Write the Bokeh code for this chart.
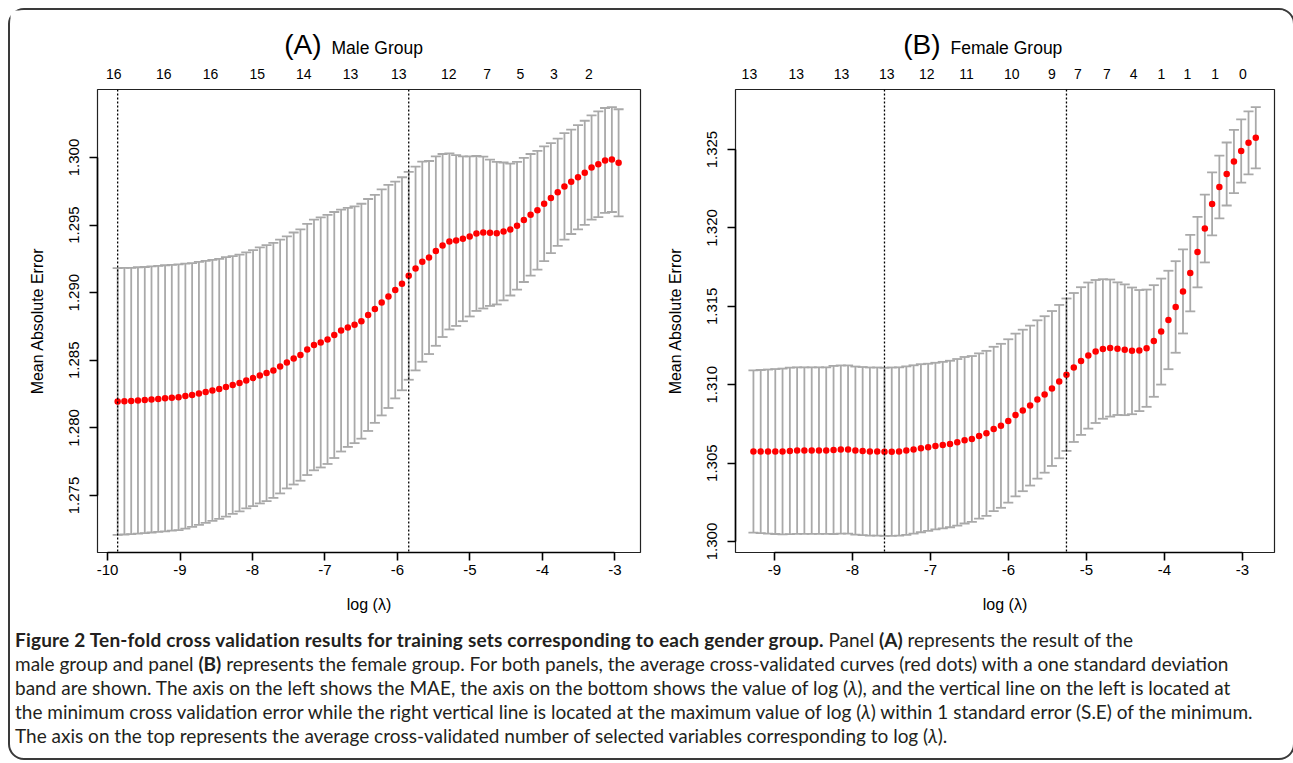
from bokeh.plotting import figure
from bokeh.models import FixedTicker, LinearAxis, Range1d, Span, Div, PrintfTickFormatter
from bokeh.layouts import row, column
from bokeh.embed import file_html
from bokeh.resources import INLINE
from bokeh.core.properties import value

# ---------------- data: panel A (male) ----------------
log_lambda_A = [-9.860, -9.767, -9.673, -9.580, -9.486, -9.393, -9.300, -9.206, -9.113, -9.020,
                -8.926, -8.833, -8.739, -8.646, -8.553, -8.459, -8.366, -8.273, -8.179, -8.086,
                -7.992, -7.899, -7.806, -7.712, -7.619, -7.526, -7.432, -7.339, -7.245, -7.152,
                -7.059, -6.965, -6.872, -6.778, -6.685, -6.592, -6.498, -6.405, -6.312, -6.218,
                -6.125, -6.031, -5.938, -5.845, -5.751, -5.658, -5.565, -5.471, -5.378, -5.284,
                -5.191, -5.098, -5.004, -4.911, -4.817, -4.724, -4.631, -4.537, -4.444, -4.351,
                -4.257, -4.164, -4.070, -3.977, -3.884, -3.790, -3.697, -3.604, -3.510, -3.417,
                -3.323, -3.230, -3.137, -3.043, -2.950]
mae_A = [1.28195, 1.28197, 1.28199, 1.28203, 1.28206, 1.28210, 1.28214, 1.28219, 1.28223, 1.28227,
         1.28235, 1.28243, 1.28255, 1.28266, 1.28277, 1.28288, 1.28303, 1.28317, 1.28332, 1.28351,
         1.28368, 1.28388, 1.28405, 1.28425, 1.28454, 1.28484, 1.28513, 1.28539, 1.28580, 1.28613,
         1.28632, 1.28654, 1.28687, 1.28720, 1.28743, 1.28763, 1.28789, 1.28835, 1.28880, 1.28928,
         1.28972, 1.29020, 1.29066, 1.29125, 1.29179, 1.29229, 1.29260, 1.29308, 1.29349, 1.29379,
         1.29386, 1.29399, 1.29416, 1.29438, 1.29445, 1.29443, 1.29440, 1.29453, 1.29467, 1.29495,
         1.29538, 1.29576, 1.29610, 1.29658, 1.29700, 1.29743, 1.29786, 1.29820, 1.29854, 1.29887,
         1.29926, 1.29950, 1.29978, 1.29985, 1.29961]
sd_A = [0.00986, 0.00986, 0.00985, 0.00985, 0.00984, 0.00984, 0.00984, 0.00984, 0.00983, 0.00983,
        0.00980, 0.00976, 0.00973, 0.00969, 0.00965, 0.00962, 0.00960, 0.00954, 0.00950, 0.00947,
        0.00947, 0.00947, 0.00947, 0.00943, 0.00939, 0.00932, 0.00932, 0.00930, 0.00929, 0.00927,
        0.00925, 0.00921, 0.00910, 0.00895, 0.00884, 0.00876, 0.00869, 0.00858, 0.00843, 0.00836,
        0.00825, 0.00802, 0.00788, 0.00769, 0.00754, 0.00740, 0.00714, 0.00701, 0.00677, 0.00651,
        0.00632, 0.00610, 0.00592, 0.00573, 0.00562, 0.00541, 0.00527, 0.00510, 0.00488, 0.00473,
        0.00459, 0.00450, 0.00439, 0.00425, 0.00407, 0.00397, 0.00394, 0.00386, 0.00385, 0.00385,
        0.00385, 0.00391, 0.00388, 0.00388, 0.00396]
top_pos_A = [-9.913, -9.223, -8.579, -7.935, -7.292, -6.648, -5.982, -5.292, -4.763, -4.303, -3.844, -3.361]
top_lab_A = ["16", "16", "16", "15", "14", "13", "13", "12", "7", "5", "3", "2"]
x_ticks_A = [-10, -9, -8, -7, -6, -5, -4, -3]
y_ticks_A = [1.275, 1.280, 1.285, 1.290, 1.295, 1.300]
idx_min_A, idx_1se_A = 0, 43

# ---------------- data: panel B (female) ----------------
log_lambda_B = [-9.270, -9.177, -9.083, -8.990, -8.897, -8.803, -8.710, -8.617, -8.523, -8.430,
                -8.337, -8.243, -8.150, -8.057, -7.963, -7.870, -7.777, -7.683, -7.590, -7.497,
                -7.403, -7.310, -7.217, -7.123, -7.030, -6.937, -6.843, -6.750, -6.657, -6.563,
                -6.470, -6.377, -6.283, -6.190, -6.097, -6.003, -5.910, -5.817, -5.723, -5.630,
                -5.537, -5.443, -5.350, -5.257, -5.163, -5.070, -4.977, -4.883, -4.790, -4.697,
                -4.603, -4.510, -4.417, -4.323, -4.230, -4.137, -4.043, -3.950, -3.857, -3.763,
                -3.670, -3.577, -3.483, -3.390, -3.297, -3.203, -3.110, -3.017, -2.923, -2.830]
mae_B = [1.30574, 1.30574, 1.30574, 1.30574, 1.30574, 1.30578, 1.30580, 1.30580, 1.30580, 1.30580,
         1.30580, 1.30584, 1.30587, 1.30587, 1.30580, 1.30577, 1.30574, 1.30574, 1.30572, 1.30573,
         1.30574, 1.30580, 1.30587, 1.30595, 1.30601, 1.30609, 1.30615, 1.30622, 1.30633, 1.30646,
         1.30654, 1.30673, 1.30690, 1.30718, 1.30738, 1.30769, 1.30807, 1.30836, 1.30867, 1.30906,
         1.30938, 1.30976, 1.31020, 1.31064, 1.31110, 1.31151, 1.31186, 1.31212, 1.31228, 1.31234,
         1.31230, 1.31223, 1.31216, 1.31218, 1.31233, 1.31279, 1.31339, 1.31413, 1.31496, 1.31595,
         1.31712, 1.31846, 1.31996, 1.32153, 1.32261, 1.32344, 1.32424, 1.32491, 1.32543, 1.32575]
sd_B = [0.00517, 0.00520, 0.00523, 0.00526, 0.00529, 0.00531, 0.00531, 0.00531, 0.00531, 0.00531,
        0.00531, 0.00536, 0.00536, 0.00536, 0.00536, 0.00536, 0.00536, 0.00536, 0.00536, 0.00537,
        0.00537, 0.00537, 0.00537, 0.00536, 0.00533, 0.00531, 0.00531, 0.00531, 0.00531, 0.00531,
        0.00529, 0.00527, 0.00526, 0.00524, 0.00523, 0.00521, 0.00519, 0.00515, 0.00510, 0.00505,
        0.00499, 0.00494, 0.00489, 0.00486, 0.00475, 0.00471, 0.00466, 0.00456, 0.00445, 0.00437,
        0.00423, 0.00417, 0.00404, 0.00386, 0.00374, 0.00356, 0.00338, 0.00314, 0.00292, 0.00268,
        0.00244, 0.00225, 0.00216, 0.00201, 0.00200, 0.00201, 0.00202, 0.00202, 0.00201, 0.00195]
top_pos_B = [-9.322, -8.721, -8.141, -7.562, -7.049, -6.537, -5.958, -5.445, -5.110, -4.738,
             -4.397, -4.041, -3.706, -3.350, -2.994]
top_lab_B = ["13", "13", "13", "13", "12", "11", "10", "9", "7", "7", "4", "1", "1", "1", "0"]
x_ticks_B = [-9, -8, -7, -6, -5, -4, -3]
y_ticks_B = [1.300, 1.305, 1.310, 1.315, 1.320, 1.325]
idx_min_B, idx_1se_B = 18, 43

panel_tags = ["(A)", "(B)"]
panel_names = ["Male Group", "Female Group"]

FONT = "Liberation Sans"
HEAD_H = 50


def make_panel(lx, mean, sd, xr, yr, xticks, yticks, top_pos, top_lab, i_min, i_1se,
               frame_w, mb_left, mb_right):
    p = figure(output_backend="svg", toolbar_location=None,
               x_range=Range1d(*xr), y_range=Range1d(*yr),
               frame_width=frame_w, frame_height=463,
               min_border_left=mb_left, min_border_right=mb_right,
               min_border_top=79 - HEAD_H, min_border_bottom=68,
               background_fill_color="white", border_fill_color="white")
    p.grid.visible = False
    p.outline_line_color = "#222222"
    p.outline_line_width = 1.2

    up = [m + s for m, s in zip(mean, sd)]
    lo = [m - s for m, s in zip(mean, sd)]
    bw = 0.01 * (max(lx) - min(lx))
    xl = [x - bw for x in lx]
    xr_ = [x + bw for x in lx]
    grey = "#A9A9A9"
    p.segment(lx, lo, lx, up, line_color=grey, line_width=1.8)
    p.segment(xl, up, xr_, up, line_color=grey, line_width=1.8)
    p.segment(xl, lo, xr_, lo, line_color=grey, line_width=1.8)
    p.scatter(lx, mean, size=6.5, color="#FF0000", line_width=0)

    for i in (i_min, i_1se):
        p.add_layout(Span(location=lx[i], dimension="height", line_color="black",
                          line_dash="2 2", line_width=1.3))

    xa = p.xaxis[0]
    xa.ticker = FixedTicker(ticks=xticks)
    xa.formatter = PrintfTickFormatter(format="%d")
    xa.bounds = (xticks[0], xticks[-1])
    ya = p.yaxis[0]
    ya.ticker = FixedTicker(ticks=yticks)
    ya.formatter = PrintfTickFormatter(format="%.3f")
    ya.bounds = (yticks[0], yticks[-1])
    ya.major_label_orientation = "vertical"
    for ax in (xa, ya):
        ax.axis_line_color = "black"
        ax.axis_line_width = 1.6
        ax.major_tick_line_color = "black"
        ax.major_tick_line_width = 1.6
        ax.major_tick_out = 8
        ax.major_tick_in = 0
        ax.minor_tick_line_color = None
        ax.major_label_text_font = FONT
        ax.major_label_text_font_size = "15px"
        ax.major_label_text_color = "black"
        ax.axis_label_text_font = FONT
        ax.axis_label_text_font_size = "16px"
        ax.axis_label_text_font_style = "normal"
        ax.axis_label_text_color = "black"
    xa.major_label_standoff = 4
    xa.axis_label = "log (λ)"
    xa.axis_label_standoff = 18
    ya.major_label_standoff = 10
    ya.axis_label = "Mean Absolute Error"
    ya.axis_label_standoff = 21

    ta = LinearAxis(ticker=FixedTicker(ticks=top_pos),
                    major_label_overrides={pos: lab for pos, lab in zip(top_pos, top_lab)},
                    axis_line_color=None, major_tick_line_color=None, minor_tick_line_color=None,
                    major_tick_out=0, major_tick_in=0, major_label_standoff=11,
                    major_label_text_font=FONT, major_label_text_font_size="14px",
                    major_label_text_color="black")
    p.add_layout(ta, "above")
    return p


pA = make_panel(log_lambda_A, mae_A, sd_A, (-10.138, -2.648), (1.27078, 1.30503),
                x_ticks_A, y_ticks_A, top_pos_A, top_lab_A, idx_min_A, idx_1se_A, 543, 87, 15)
pB = make_panel(log_lambda_B, mae_B, sd_B, (-9.5, -2.590), (1.29930, 1.32883),
                x_ticks_B, y_ticks_B, top_pos_B, top_lab_B, idx_min_B, idx_1se_B, 539, 80, 9)

# header strip with the two panel titles (pixel-like coordinates, y measured from strip bottom)
TOTAL_W = 87 + 543 + 15 + 80 + 539 + 9
head = figure(output_backend="svg", toolbar_location=None, width=TOTAL_W, height=HEAD_H,
              x_range=Range1d(0, TOTAL_W), y_range=Range1d(0, HEAD_H),
              x_axis_location=None, y_axis_location=None,
              min_border_left=0, min_border_right=0, min_border_top=0, min_border_bottom=0,
              outline_line_color=None, background_fill_color="white", border_fill_color="white")
head.grid.visible = False
head.text(x=[311, 930], y=[16.5, 16.5], text=panel_tags, text_align="right", text_baseline="middle",
          text_font=value(FONT), text_font_size="28px", text_color="black")
head.text(x=[321, 940], y=[13, 13], text=panel_names, text_align="left", text_baseline="middle",
          text_font=value(FONT), text_font_size="17.5px", text_color="black")

caption = (
    '<div style="font-family:Lato, sans-serif; font-size:19px; line-height:24px; color:#231f20; '
    'white-space:nowrap; padding:3px 0 0 0;">'
    '<b style="letter-spacing:0.2px">Figure 2 Ten-fold cross validation results for training sets '
    'corresponding to each gender group.</b> '
    'Panel <b>(A)</b> represents the result of the<br>'
    'male group and panel <b>(B)</b> represents the female group. For both panels, the average '
    'cross-validated curves (red dots) with a one standard deviation<br>'
    'band are shown. The axis on the left shows the MAE, the axis on the bottom shows the value of '
    'log (<i>λ</i>), and the vertical line on the left is located at<br>'
    'the minimum cross validation error while the right vertical line is located at the maximum value '
    'of log (<i>λ</i>) within 1 standard error (S.E) of the minimum.<br>'
    'The axis on the top represents the average cross-validated number of selected variables '
    'corresponding to log (<i>λ</i>).</div>'
)
cap = Div(text=caption, width=TOTAL_W, height=128)

layout = column(head, row(pA, pB), cap,
                styles={"border": "2px solid #3a3a3a", "border-radius": "16px",
                        "background-color": "white", "margin": "8px 0 0 8px"})

open("out.html", "w").write(file_html(layout, INLINE))
